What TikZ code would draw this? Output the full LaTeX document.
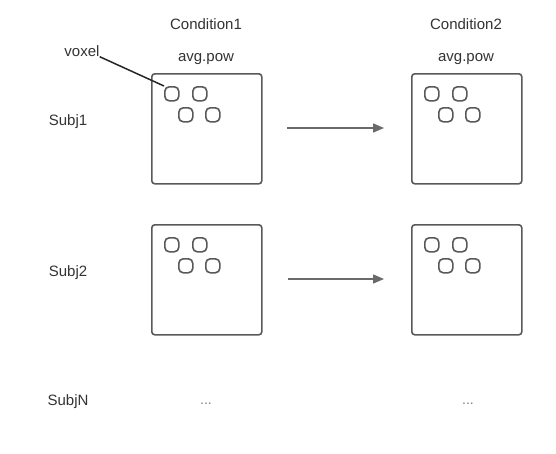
\documentclass[tikz,border=0pt]{standalone}
\usepackage{fontspec}
\setmainfont{Liberation Sans}
\usetikzlibrary{arrows.meta}
\definecolor{txt}{HTML}{333333}
\definecolor{edge}{HTML}{595959}
\definecolor{arr}{HTML}{6A6A6A}
\begin{document}
\begin{tikzpicture}[x=1pt,y=-1pt,
  lbl/.style={text=txt,font=\fontsize{15}{17}\selectfont,inner sep=0pt,anchor=center},
  dots/.style={text=gray,font=\fontsize{14}{16}\selectfont,inner sep=0pt,anchor=center},
  bigbox/.style={draw=edge,line width=1.6pt,rounded corners=3pt,minimum width=110pt,minimum height=110pt,inner sep=0pt,anchor=north west},
  vox/.style={draw=edge,line width=1.6pt,rounded corners=4.5pt,minimum width=14pt,minimum height=14pt,inner sep=0pt,anchor=north west},
  flow/.style={draw=arr,line width=1.3pt,-{Triangle[length=11pt,width=9pt]}}]
\useasboundingbox (0,0) rectangle (556,453);
% headers
\node[lbl] (c1) at (206,24) {Condition1};
\node[lbl] (c2) at (466,24) {Condition2};
\node[lbl] (a1) at (206,59) {avg.pow};
\node[lbl] (a2) at (466,59) {avg.pow};
% row labels
\node[lbl] (s1) at (68,122) {Subj1};
\node[lbl] (s2) at (68,273) {Subj2};
\node[lbl] (sn) at (68,402) {SubjN};
\node[dots] (d1) at (206,404) {...};
\node[dots] (d2) at (468,404) {...};
% boxes
\node[bigbox] (b11) at (151,73) {};
\node[bigbox] (b12) at (411,73) {};
\node[bigbox] (b21) at (151,224) {};
\node[bigbox] (b22) at (411,224) {};
% voxels
\foreach \b/\x/\y in {11/151/73,12/411/73,21/151/224,22/411/224}{
  \node[vox] (v\b a) at (\x+13,\y+13) {};
  \node[vox] (v\b b) at (\x+41,\y+13) {};
  \node[vox] (v\b c) at (\x+27,\y+34) {};
  \node[vox] (v\b d) at (\x+54,\y+34) {};
}
% voxel label
\node[lbl] (vl) at (82,51) {voxel};
\draw[draw=black!85,line width=1.5pt] (vl.south east) -- (v11a.north west);
% arrows
\coordinate (p1) at (287,128);
\coordinate (q1) at (384,128);
\coordinate (p2) at (288,279);
\coordinate (q2) at (384,279);
\draw[flow] (p1) -- (q1);
\draw[flow] (p2) -- (q2);
\end{tikzpicture}
\end{document}
